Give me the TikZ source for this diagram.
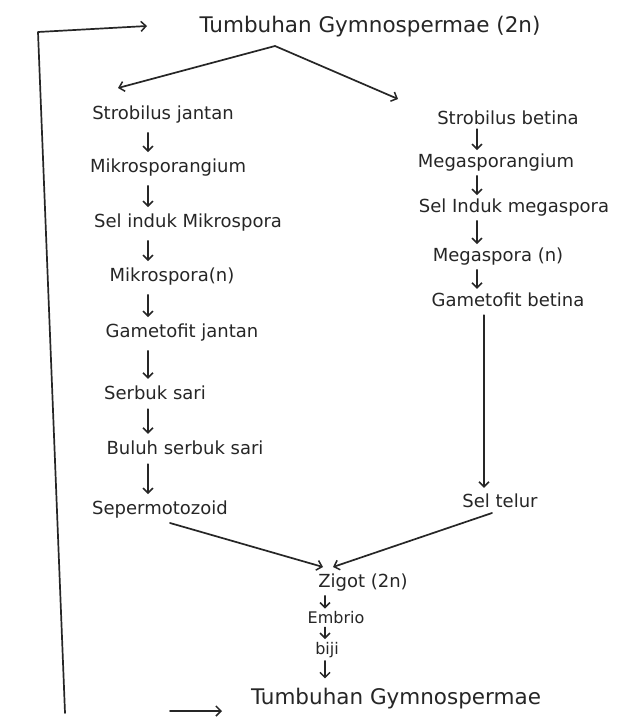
\documentclass[tikz,border=0pt]{standalone}
\usepackage{fontspec}
\setmainfont{DejaVu Sans}
\usetikzlibrary{arrows.meta}
\begin{document}
\begin{tikzpicture}[x=1pt,y=-1pt,
  txt/.style={font=\fontsize{18}{21}\selectfont, inner sep=2pt, text=black!85},
  big/.style={font=\fontsize{21.5}{25}\selectfont, inner sep=2pt, text=black!85},
  small/.style={font=\fontsize{16}{19}\selectfont, inner sep=1pt, text=black!85},
  ln/.style={line width=1.7pt, draw=black!85, line cap=round, line join=round},
  arr/.style={ln, -{Straight Barb[length=5pt,width=10pt,line width=1.5pt]}},
  varr/.style={arr, shorten <=7pt, shorten >=5pt},
  sarr/.style={arr, shorten <=2pt, shorten >=2pt}]
\useasboundingbox[fill=white] (0,0) rectangle (624,720);
% column guides
\coordinate (colL) at (148,0);
\coordinate (colR) at (477,0);
\coordinate (colR2) at (484,0);
\coordinate (colB) at (325,0);
% top
\node[big] (top) at (370,27) {Tumbuhan Gymnospermae (2n)};
\coordinate (split) at (275,46);
\coordinate (ljEnd) at (118,88);
\coordinate (rbEnd) at (398,99);
% left column
\node[txt] (sj) at (163,115) {Strobilus jantan};
\node[txt] (mk) at (168,168) {Mikrosporangium};
\node[txt] (sim) at (188,223) {Sel induk Mikrospora};
\node[txt] (ms) at (172,277) {Mikrospora(n)};
\node[txt] (gj) at (182,333) {Gametofit jantan};
\node[txt] (ss) at (155,393) {Serbuk sari};
\node[txt] (bss) at (185,448) {Buluh serbuk sari};
\node[txt] (sp) at (160,510) {Sepermotozoid};
% right column
\node[txt] (sb) at (508,118) {Strobilus betina};
\node[txt] (mg) at (496,163) {Megasporangium};
\node[txt] (sig) at (514,208) {Sel Induk megaspora};
\node[txt] (mgs) at (498,257) {Megaspora (n)};
\node[txt] (gb) at (508,300) {Gametofit betina};
\node[txt] (st) at (500,501) {Sel telur};
% bottom
\node[txt] (zg) at (363,583) {Zigot (2n)};
\node[small] (em) at (336,618) {Embrio};
\node[small] (bj) at (327,650) {biji};
\node[big] (bot) at (396,699) {Tumbuhan Gymnospermae};
% loop
\coordinate (loopB) at (65,713);
\coordinate (loopT) at (38,32);
\coordinate (topIn) at (147,26);
\coordinate (botOut) at (170,711);
\coordinate (botIn) at (222,711);
\coordinate (spOut) at (170,523);
\coordinate (stOut) at (492,513);
\coordinate (zgInL) at (323,567);
\coordinate (zgInR) at (333,567);
% connectors
\draw[arr] (split) -- (ljEnd);
\draw[arr] (split) -- (rbEnd);
\draw[arr] (loopB) -- (loopT) -- (topIn);
\draw[varr] (sj.south -| colL) -- (mk.north -| colL);
\draw[varr] (mk.south -| colL) -- (sim.north -| colL);
\draw[varr] (sim.south -| colL) -- (ms.north -| colL);
\draw[varr] (ms.south -| colL) -- (gj.north -| colL);
\draw[varr] (gj.south -| colL) -- (ss.north -| colL);
\draw[varr] (ss.south -| colL) -- (bss.north -| colL);
\draw[varr] (bss.south -| colL) -- (sp.north -| colL);
\draw[sarr] (sb.south -| colR) -- (mg.north -| colR);
\draw[sarr] (mg.south -| colR) -- (sig.north -| colR);
\draw[sarr] (sig.south -| colR) -- (mgs.north -| colR);
\draw[sarr] (mgs.south -| colR) -- (gb.north -| colR);
\draw[arr, shorten <=6pt, shorten >=4pt] (gb.south -| colR2) -- (st.north -| colR2);
\draw[arr] (spOut) -- (zgInL);
\draw[arr] (stOut) -- (zgInR);
\draw[sarr] (zg.south -| colB) -- (em.north -| colB);
\draw[sarr] (em.south -| colB) -- (bj.north -| colB);
\draw[sarr] (bj.south -| colB) -- ([yshift=6pt]bot.north -| colB);
\draw[arr] (botOut) -- (botIn);
\end{tikzpicture}
\end{document}
